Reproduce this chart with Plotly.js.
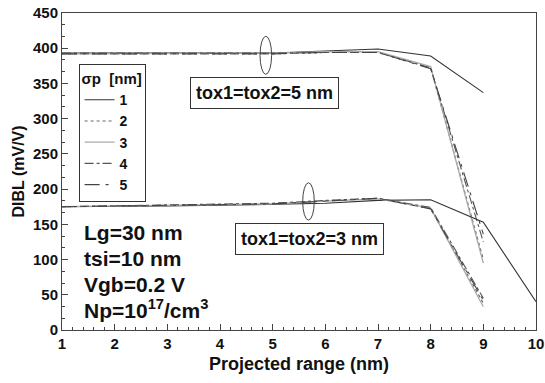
<!DOCTYPE html>
<html>
<head>
<meta charset="utf-8">
<script src="https://cdn.plot.ly/plotly-3.0.1.min.js"></script>
<style>html,body{margin:0;padding:0;background:#fff}#chart{width:545px;height:383px}</style>
</head>
<body>
<div id="chart"></div>
<script>
// Projected range (nm)
const xUpper = [1, 2, 3, 4, 5, 6, 7, 8, 9];
const xLower = [1, 2, 3, 4, 5, 6, 7, 8, 9];
const xLowerS1 = [1, 2, 3, 4, 5, 6, 7, 8, 9, 10];

// DIBL (mV/V), tox1=tox2=5 nm
const up1 = [393, 393, 392, 392, 393, 396, 399, 389, 337];
const up2 = [392, 392, 391, 391, 392, 394, 394, 372, 100];
const up3 = [392, 392, 392, 392, 393, 395, 395, 374, 95];
const up4 = [393, 393, 392, 392, 393, 394, 394, 372, 125];
const up5 = [392, 392, 391, 391, 392, 394, 394, 371, 136];

// DIBL (mV/V), tox1=tox2=3 nm
const lo1 = [175, 175, 176, 177, 178, 180, 184, 185, 153, 40];
const lo2 = [175, 176, 177, 178, 179, 183, 187, 172, 38];
const lo3 = [175, 176, 177, 178, 179, 183, 186, 173, 33];
const lo4 = [175, 176, 177, 178, 180, 184, 187, 174, 45];
const lo5 = [175, 176, 177, 178, 179, 183, 187, 172, 42];

const sigmaLabels = ['1', '2', '3', '4', '5'];

const styles = [
  {color: '#333333', dash: 'solid', width: 1.1},
  {color: '#666666', dash: 'dot', width: 1.2},
  {color: '#aaaaaa', dash: 'solid', width: 1.3},
  {color: '#555555', dash: 'dashdot', width: 1.1},
  {color: '#444444', dash: 'longdashdot', width: 1.1}
];

const upper = [up1, up2, up3, up4, up5];
const lower = [lo1, lo2, lo3, lo4, lo5];

const traces = [];
upper.forEach((ys, i) => {
  traces.push({x: xUpper, y: ys, mode: 'lines', name: sigmaLabels[i],
    line: styles[i], legendgroup: 'g' + i, showlegend: true, hoverinfo: 'skip'});
});
lower.forEach((ys, i) => {
  traces.push({x: i === 0 ? xLowerS1 : xLower, y: ys, mode: 'lines', name: sigmaLabels[i],
    line: styles[i], legendgroup: 'g' + i, showlegend: false, hoverinfo: 'skip'});
});

const F = 'Liberation Sans, Arial, sans-serif';
const boldFont = (s) => ({family: F, size: s, color: '#111', weight: 700});

const layout = {
  width: 545, height: 383,
  margin: {l: 62, r: 9, t: 13, b: 53},
  paper_bgcolor: '#fff', plot_bgcolor: '#fff',
  font: {family: F, color: '#111'},
  showlegend: true,
  legend: {
    x: 0.035, y: 0.84, xanchor: 'left', yanchor: 'top',
    bgcolor: '#fff', bordercolor: '#333', borderwidth: 1,
    font: boldFont(14),
    title: {text: 'σp  [nm]', font: boldFont(15)},
    itemwidth: 30, tracegroupgap: 0
  },
  xaxis: {
    range: [1, 10], dtick: 1, tick0: 1,
    ticks: 'inside', ticklen: 6, tickcolor: '#444',
    showline: true, linecolor: '#444', linewidth: 1, mirror: true,
    showgrid: false, zeroline: false,
    tickfont: boldFont(15), ticklabeloverflow: 'allow',
    minor: {dtick: 0.2, ticks: 'inside', ticklen: 3, tickcolor: '#444', showgrid: false},
    title: {text: 'Projected range (nm)', font: boldFont(18), standoff: 6}
  },
  yaxis: {
    range: [0, 450], dtick: 50,
    ticks: 'inside', ticklen: 6, tickcolor: '#444',
    showline: true, linecolor: '#444', linewidth: 1, mirror: true,
    showgrid: false, zeroline: false,
    tickfont: boldFont(15), ticklabeloverflow: 'allow',
    minor: {dtick: 50 / 3, ticks: 'inside', ticklen: 3, tickcolor: '#444', showgrid: false},
    title: {text: 'DIBL (mV/V)', font: boldFont(16), standoff: 4}
  },
  shapes: [
    {type: 'circle', xref: 'x', yref: 'y', x0: 4.76, x1: 4.98, y0: 363, y1: 417,
      line: {color: '#444', width: 1}},
    {type: 'circle', xref: 'x', yref: 'y', x0: 5.57, x1: 5.79, y0: 156, y1: 209,
      line: {color: '#444', width: 1}}
  ],
  annotations: [
    {xref: 'x', yref: 'y', x: 4.84, y: 336, text: 'tox1=tox2=5 nm', showarrow: false,
      font: boldFont(18), bgcolor: '#fff', bordercolor: '#333', borderwidth: 1, borderpad: 5},
    {xref: 'x', yref: 'y', x: 5.69, y: 129, text: 'tox1=tox2=3 nm', showarrow: false,
      font: boldFont(18), bgcolor: '#fff', bordercolor: '#333', borderwidth: 1, borderpad: 5},
    {xref: 'paper', yref: 'paper', x: 0.042, y: 0.306, xanchor: 'left', yanchor: 'middle',
      text: 'Lg=30 nm', showarrow: false, font: boldFont(21)},
    {xref: 'paper', yref: 'paper', x: 0.042, y: 0.227, xanchor: 'left', yanchor: 'middle',
      text: 'tsi=10 nm', showarrow: false, font: boldFont(21)},
    {xref: 'paper', yref: 'paper', x: 0.042, y: 0.145, xanchor: 'left', yanchor: 'middle',
      text: 'Vgb=0.2 V', showarrow: false, font: boldFont(21)},
    {xref: 'paper', yref: 'paper', x: 0.042, y: 0.066, xanchor: 'left', yanchor: 'middle',
      text: 'Np=10<sup>17</sup>/cm<sup>3</sup>', showarrow: false, font: boldFont(21)}
  ]
};

Plotly.newPlot('chart', traces, layout, {displayModeBar: false, staticPlot: true});
</script>
</body>
</html>
